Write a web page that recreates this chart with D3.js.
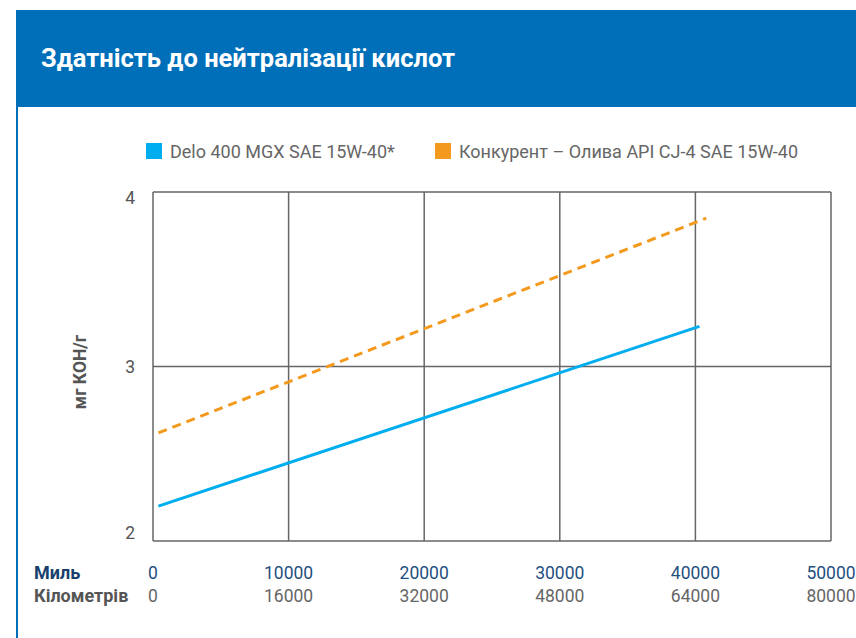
<!DOCTYPE html>
<html>
<head>
<meta charset="utf-8">
<script src="https://cdn.jsdelivr.net/npm/d3@7"></script>
<style>
  body { margin: 0; background: #fff; }
  svg { display: block; font-family: Roboto, "Noto Sans", sans-serif; }
</style>
</head>
<body>
<div id="chart"></div>
<script>
// ---- data ----
const title = "Здатність до нейтралізації кислот";
const seriesNames = ["Delo 400 MGX SAE 15W-40*", "Конкурент – Олива API CJ-4 SAE 15W-40"];
const deloMiles = [400, 40300];
const deloKoh = [2.20, 3.23];
const rivalMiles = [400, 40800];
const rivalKoh = [2.62, 3.85];
const milesTicks = [0, 10000, 20000, 30000, 40000, 50000];
const kmTicks = [0, 16000, 32000, 48000, 64000, 80000];
const yTicks = [2, 3, 4];

const W = 856, H = 638;
const plot = {left: 153, right: 831, top: 192, bottom: 541};

const svg = d3.select("#chart").append("svg")
  .attr("width", W).attr("height", H);

// header
svg.append("rect").attr("x", 16).attr("y", 10).attr("width", W - 16).attr("height", 97)
  .attr("fill", "#006fba");
svg.append("rect").attr("x", 16).attr("y", 107).attr("width", 2).attr("height", H - 107)
  .attr("fill", "#006fba");
svg.append("text").attr("x", 41).attr("y", 67)
  .attr("fill", "#fff").attr("font-size", 25.5).attr("font-weight", "bold")
  .text(title);

// scales
const x = d3.scaleLinear().domain([0, 50000]).range([plot.left, plot.right]);
const y = d3.scaleLinear().domain([2, 4]).range([plot.bottom, plot.top]);

const g = svg.append("g");

// grid
g.selectAll(".vgrid").data(milesTicks).enter().append("line")
  .attr("x1", d => x(d)).attr("x2", d => x(d))
  .attr("y1", plot.top).attr("y2", plot.bottom)
  .attr("stroke", "#666").attr("stroke-width", 1.5);
g.selectAll(".hgrid").data(yTicks).enter().append("line")
  .attr("x1", plot.left).attr("x2", plot.right)
  .attr("y1", d => y(d)).attr("y2", d => y(d))
  .attr("stroke", "#666").attr("stroke-width", 1.5);

// y tick labels (nudged inside like the original)
g.selectAll(".ylab").data(yTicks).enter().append("text")
  .attr("x", 135).attr("y", d => y(d))
  .attr("dy", d => d === 4 ? "0.7em" : d === 2 ? "-0.1em" : "0.35em")
  .attr("text-anchor", "end")
  .attr("fill", "#555").attr("font-size", 17.5)
  .text(d => d);

svg.append("text")
  .attr("transform", "translate(86," + 372 + ") rotate(-90)")
  .attr("text-anchor", "middle")
  .attr("fill", "#555").attr("font-size", 17.5).attr("font-weight", "bold")
  .text("мг КОН/г");

// x labels
svg.append("text").attr("x", 34).attr("y", 579)
  .attr("fill", "#183f6b").attr("font-size", 18).attr("font-weight", "bold").text("Миль");
svg.append("text").attr("x", 34).attr("y", 602)
  .attr("fill", "#555").attr("font-size", 18).attr("font-weight", "bold").text("Кілометрів");

g.selectAll(".mlab").data(milesTicks).enter().append("text")
  .attr("x", d => x(d)).attr("y", 579)
  .attr("text-anchor", "middle")
  .attr("fill", "#1f5080").attr("font-size", 17.5)
  .text(d => d);
g.selectAll(".klab").data(kmTicks).enter().append("text")
  .attr("x", (d, i) => x(milesTicks[i])).attr("y", 602)
  .attr("text-anchor", "middle")
  .attr("fill", "#666").attr("font-size", 17.5)
  .text(d => d);

// lines
const line = d3.line().x(d => x(d[0])).y(d => y(d[1]));
g.append("path")
  .datum(d3.zip(rivalMiles, rivalKoh))
  .attr("d", line)
  .attr("fill", "none").attr("stroke", "#f39a1e").attr("stroke-width", 3)
  .attr("stroke-dasharray", "9,6");
g.append("path")
  .datum(d3.zip(deloMiles, deloKoh))
  .attr("d", line)
  .attr("fill", "none").attr("stroke", "#00aeef").attr("stroke-width", 3);

// legend
const legendX = [146, 435];
const legendColors = ["#00aeef", "#f39a1e"];
const leg = svg.selectAll(".leg").data(seriesNames).enter().append("g")
  .attr("transform", (d, i) => "translate(" + legendX[i] + ",143)");
leg.append("rect").attr("width", 16).attr("height", 16)
  .attr("fill", (d, i) => legendColors[i]);
leg.append("text").attr("x", 24).attr("y", 15)
  .attr("fill", "#666").attr("font-size", 18)
  .text(d => d);
</script>
</body>
</html>
